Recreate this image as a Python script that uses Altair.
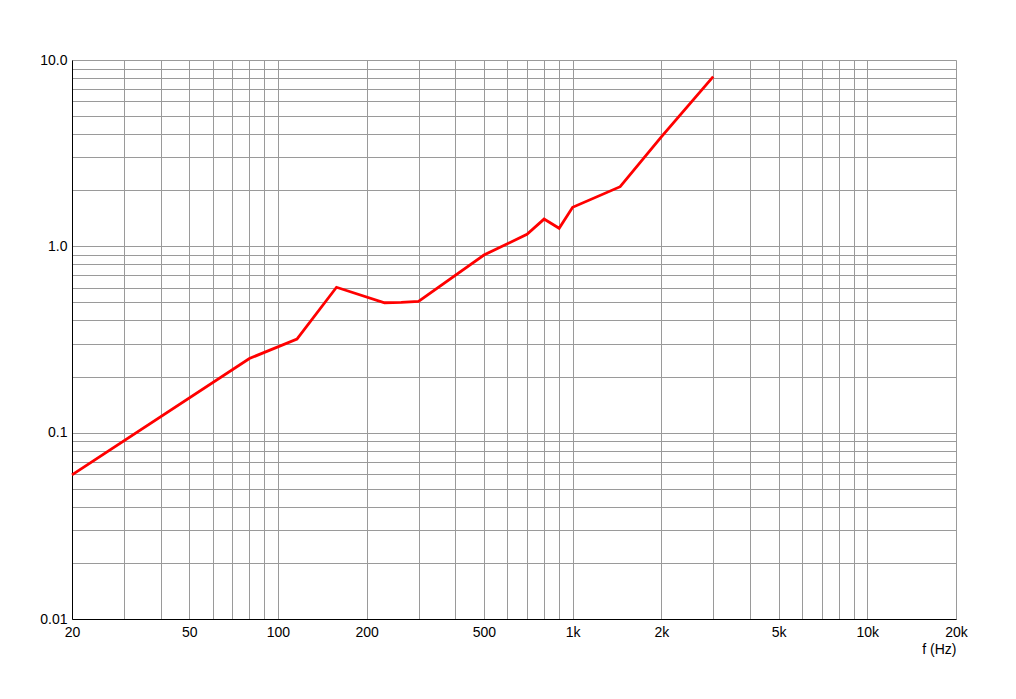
import altair as alt
import pandas as pd

# Series
freq = [20, 80, 116, 158, 230, 262, 300, 500, 700, 800, 900, 1000, 1450, 2000, 3000]
value = [0.0593, 0.250, 0.318, 0.603, 0.498, 0.500, 0.507, 0.898, 1.16, 1.40, 1.25, 1.62, 2.09, 3.87, 8.14]

# Grid positions and tick labels
x_grid = [20, 30, 40, 50, 60, 70, 80, 90,
          100, 200, 300, 400, 500, 600, 700, 800, 900,
          1000, 2000, 3000, 4000, 5000, 6000, 7000, 8000, 9000,
          10000, 20000]
x_label_vals = [20, 50, 100, 200, 500, 1000, 2000, 5000, 10000, 20000]
x_label_text = ["20", "50", "100", "200", "500", "1k", "2k", "5k", "10k", "20k"]

y_grid = [0.01, 0.02, 0.03, 0.04, 0.05, 0.06, 0.07, 0.08, 0.09,
          0.1, 0.2, 0.3, 0.4, 0.5, 0.6, 0.7, 0.8, 0.9,
          1, 2, 3, 4, 5, 6, 7, 8, 9, 10]
y_label_vals = [0.01, 0.1, 1, 10]
y_label_text = ["0.01", "0.1", "1.0", "10.0"]


def label_expr(vals, texts):
    expr = "''"
    for v, t in reversed(list(zip(vals, texts))):
        expr = f"datum.value == {v} ? '{t}' : ({expr})"
    return expr


df = pd.DataFrame({"f": freq, "v": value})

FONT = "Liberation Sans"

chart = alt.Chart(df).mark_line(color="#ff0000", strokeWidth=2.8).encode(
    x=alt.X("f:Q",
            scale=alt.Scale(type="log", domain=[20, 20000], nice=False),
            axis=alt.Axis(values=x_grid, labelExpr=label_expr(x_label_vals, x_label_text),
                          grid=True, gridColor="#9a9a9a", gridWidth=1, gridOpacity=1,
                          ticks=False, domainColor="#000000", domainWidth=1,
                          labelOverlap=False, labelFlush=False, labelPadding=6,
                          labelFont=FONT, labelFontSize=14, labelColor="#000000",
                          title="f (Hz)", titleFont=FONT, titleFontSize=14,
                          titleFontWeight="normal", titleColor="#000000",
                          titleAlign="right", titleAnchor="end", titleBaseline="top",
                          titleX=884, titleY=23)),
    y=alt.Y("v:Q",
            scale=alt.Scale(type="log", domain=[0.01, 10], nice=False),
            axis=alt.Axis(values=y_grid, labelExpr=label_expr(y_label_vals, y_label_text),
                          grid=True, gridColor="#9a9a9a", gridWidth=1, gridOpacity=1,
                          ticks=False, domainColor="#000000", domainWidth=1,
                          labelOverlap=False, labelFlush=False, labelPadding=5,
                          labelFont=FONT, labelFontSize=14, labelColor="#000000",
                          title=None)),
).properties(
    width=884,
    height=559,
    autosize=alt.AutoSizeParams(type="none"),
    padding={"left": 64, "top": 52, "right": 52, "bottom": 80},
).configure_view(
    stroke="#000000", strokeWidth=1
).configure(background="#ffffff")

chart.save("out.html", embed_options={"renderer": "svg", "actions": False})
